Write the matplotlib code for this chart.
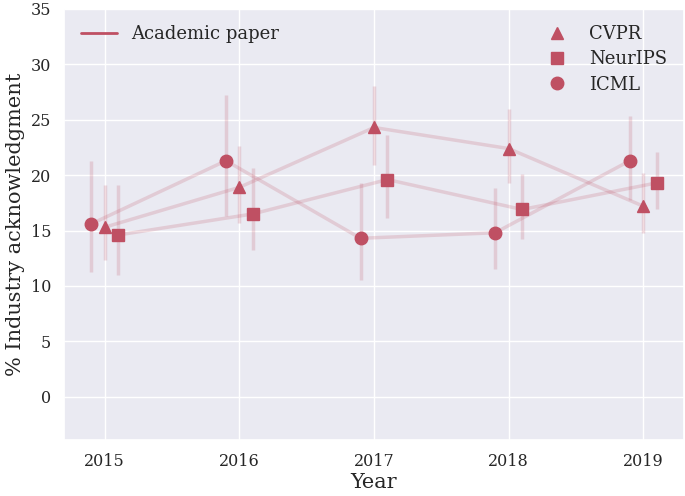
import matplotlib
matplotlib.use("Agg")
import matplotlib.pyplot as plt
import seaborn as sns
import numpy as np

# data
years = [2015, 2016, 2017, 2018, 2019]
venues = ["CVPR", "NeurIPS", "ICML"]

cvpr = [15.3, 18.9, 24.3, 22.4, 17.2]
cvpr_lo = [12.3, 15.7, 20.9, 19.3, 14.8]
cvpr_hi = [19.1, 22.6, 28.0, 26.0, 20.2]

neurips = [14.6, 16.5, 19.6, 16.9, 19.3]
neurips_lo = [11.0, 13.2, 16.1, 14.2, 16.9]
neurips_hi = [19.1, 20.6, 23.6, 20.1, 22.1]

icml = [15.6, 21.3, 14.3, 14.8, 21.3]
icml_lo = [11.3, 16.3, 10.5, 11.5, 17.8]
icml_hi = [21.3, 27.2, 19.3, 18.8, 25.3]

sns.set_theme(style="darkgrid")
plt.rcParams["font.family"] = ["DejaVu Serif"]

color = "#BF5063"

fig = plt.figure(figsize=(6.85, 4.96), dpi=100)
ax = fig.add_axes([0.094, 0.113, 0.904, 0.869])

series = [
    (cvpr, cvpr_lo, cvpr_hi, "^", 0.0),
    (neurips, neurips_lo, neurips_hi, "s", 0.1),
    (icml, icml_lo, icml_hi, "o", -0.1),
]

marker_handles = []
for name, (vals, lo, hi, mk, off) in zip(venues, series):
    x = np.array(years) + off
    v = np.array(vals)
    yerr = [v - np.array(lo), np.array(hi) - v]
    ax.plot(x, v, color=color, alpha=0.2, lw=2.5)
    ax.errorbar(x, v, yerr=yerr, fmt="none", ecolor=color, alpha=0.2,
                elinewidth=2.5, capsize=0)
    h, = ax.plot(x, v, ls="none", marker=mk, color=color, markersize=9,
                 label=name)
    marker_handles.append(h)

line_handle, = ax.plot([], [], color=color, lw=2, label="Academic paper")

leg1 = ax.legend(handles=[line_handle], loc="upper left", frameon=False,
                 fontsize=13)
ax.add_artist(leg1)
ax.legend(handles=marker_handles, loc="upper right", frameon=False,
          fontsize=13, labelspacing=0.4)

ax.set_xlim(2014.7, 2019.3)
ax.set_ylim(-3.9, 35)
ax.set_xticks(years)
ax.set_yticks(range(0, 36, 5))
ax.tick_params(labelsize=11.5)
ax.set_xlabel("Year", fontsize=15, labelpad=2)
ax.set_ylabel("% Industry acknowledgment", fontsize=15)

plt.savefig("out.png", dpi=100)
